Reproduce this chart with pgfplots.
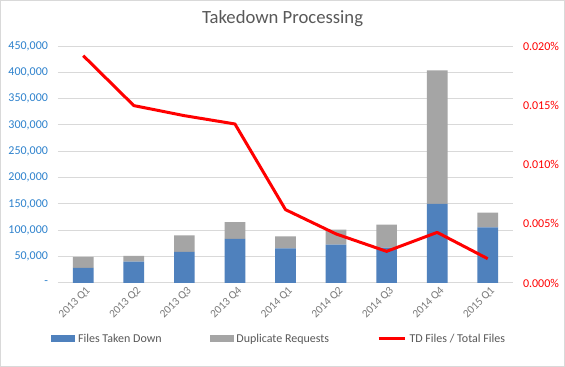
\documentclass[border=0pt]{standalone}
\usepackage{pgfplots}
\pgfplotsset{compat=1.18}
\usepackage{fontspec}
\setmainfont{Carlito}
\definecolor{barblue}{RGB}{79,129,189}
\definecolor{bargray}{RGB}{165,165,165}
\definecolor{txtgray}{RGB}{89,89,89}
\definecolor{gridgray}{RGB}{217,217,217}
\definecolor{tickblue}{RGB}{46,130,205}
\definecolor{linered}{RGB}{255,0,0}
\begin{document}
\begin{tikzpicture}
\useasboundingbox (0,0) rectangle (423.75pt,275.25pt);
\draw[gridgray, line width=0.75pt, fill=white] (0.4pt,0.4pt) rectangle (423.35pt,274.85pt);
\node[text=txtgray, font=\fontsize{14}{16}\selectfont] at (211.9pt,261.5pt) {Takedown Processing};
\begin{axis}[
  at={(43.5pt,63pt)}, anchor=south west,
  scale only axis, width=341.25pt, height=177.75pt,
  ybar stacked, bar width=15.5pt,
  xmin=-0.5, xmax=8.5, ymin=0, ymax=450000,
  axis line style={draw=none},
  major tick length=0pt,
  ymajorgrids, grid style={gridgray, line width=0.75pt},
  xtick={0,...,8},
  xticklabels={2013 Q1,2013 Q2,2013 Q3,2013 Q4,2014 Q1,2014 Q2,2014 Q3,2014 Q4,2015 Q1},
  xticklabel style={rotate=45, anchor=east, text=txtgray!80, font=\fontsize{8.5}{10}\selectfont, xshift=3pt, yshift=-6pt},
  ytick={0,50000,...,450000},
  yticklabels={{-},{50,000},{100,000},{150,000},{200,000},{250,000},{300,000},{350,000},{400,000},{450,000}},
  yticklabel style={text=tickblue, font=\fontsize{9}{10}\selectfont, xshift=-4pt},
  scaled y ticks=false,
  legend columns=3,
  legend style={at={(0.487,-0.236)}, anchor=center, draw=none, fill=none,
    font=\fontsize{9}{10}\selectfont, text=txtgray,
    /tikz/every even column/.append style={column sep=34pt}},
]
\addplot[fill=barblue, draw=none, legend image code/.code={\fill[barblue] (0pt,-2.6pt) rectangle (18pt,2.6pt);}]
  coordinates {(0,28500) (1,40500) (2,58900) (3,83600) (4,65700) (5,72700) (6,67000) (7,150000) (8,105600)};
\addlegendentry{Files Taken Down}
\addplot[fill=bargray, draw=none, legend image code/.code={\fill[bargray] (0pt,-2.6pt) rectangle (18pt,2.6pt);}]
  coordinates {(0,20900) (1,10800) (2,31500) (3,32200) (4,22800) (5,28500) (6,43700) (7,253700) (8,27900)};
\addlegendentry{Duplicate Requests}
\addlegendimage{linered, line width=2.25pt, legend image code/.code={\draw[linered, line width=2.25pt] (0pt,0pt) -- (20pt,0pt);}}
\addlegendentry{TD Files / Total Files}
\end{axis}
\begin{axis}[
  at={(43.5pt,63pt)}, anchor=south west,
  scale only axis, width=341.25pt, height=177.75pt,
  xmin=-0.5, xmax=8.5, ymin=0, ymax=0.02,
  axis x line=none,
  axis y line*=right, axis line style={draw=none},
  major tick length=0pt,
  scaled y ticks=false,
  ytick={0,0.005,0.01,0.015,0.02},
  yticklabels={0.000\%,0.005\%,0.010\%,0.015\%,0.020\%},
  yticklabel style={text=linered, font=\fontsize{9}{10}\selectfont, xshift=4pt},
]
\addplot[linered, line width=2.25pt, line join=round, mark=none]
  coordinates {(0,0.01918) (1,0.01497) (2,0.01412) (3,0.01342) (4,0.00619) (5,0.00414) (6,0.00267) (7,0.00427) (8,0.00205)};
\end{axis}
\end{tikzpicture}
\end{document}
